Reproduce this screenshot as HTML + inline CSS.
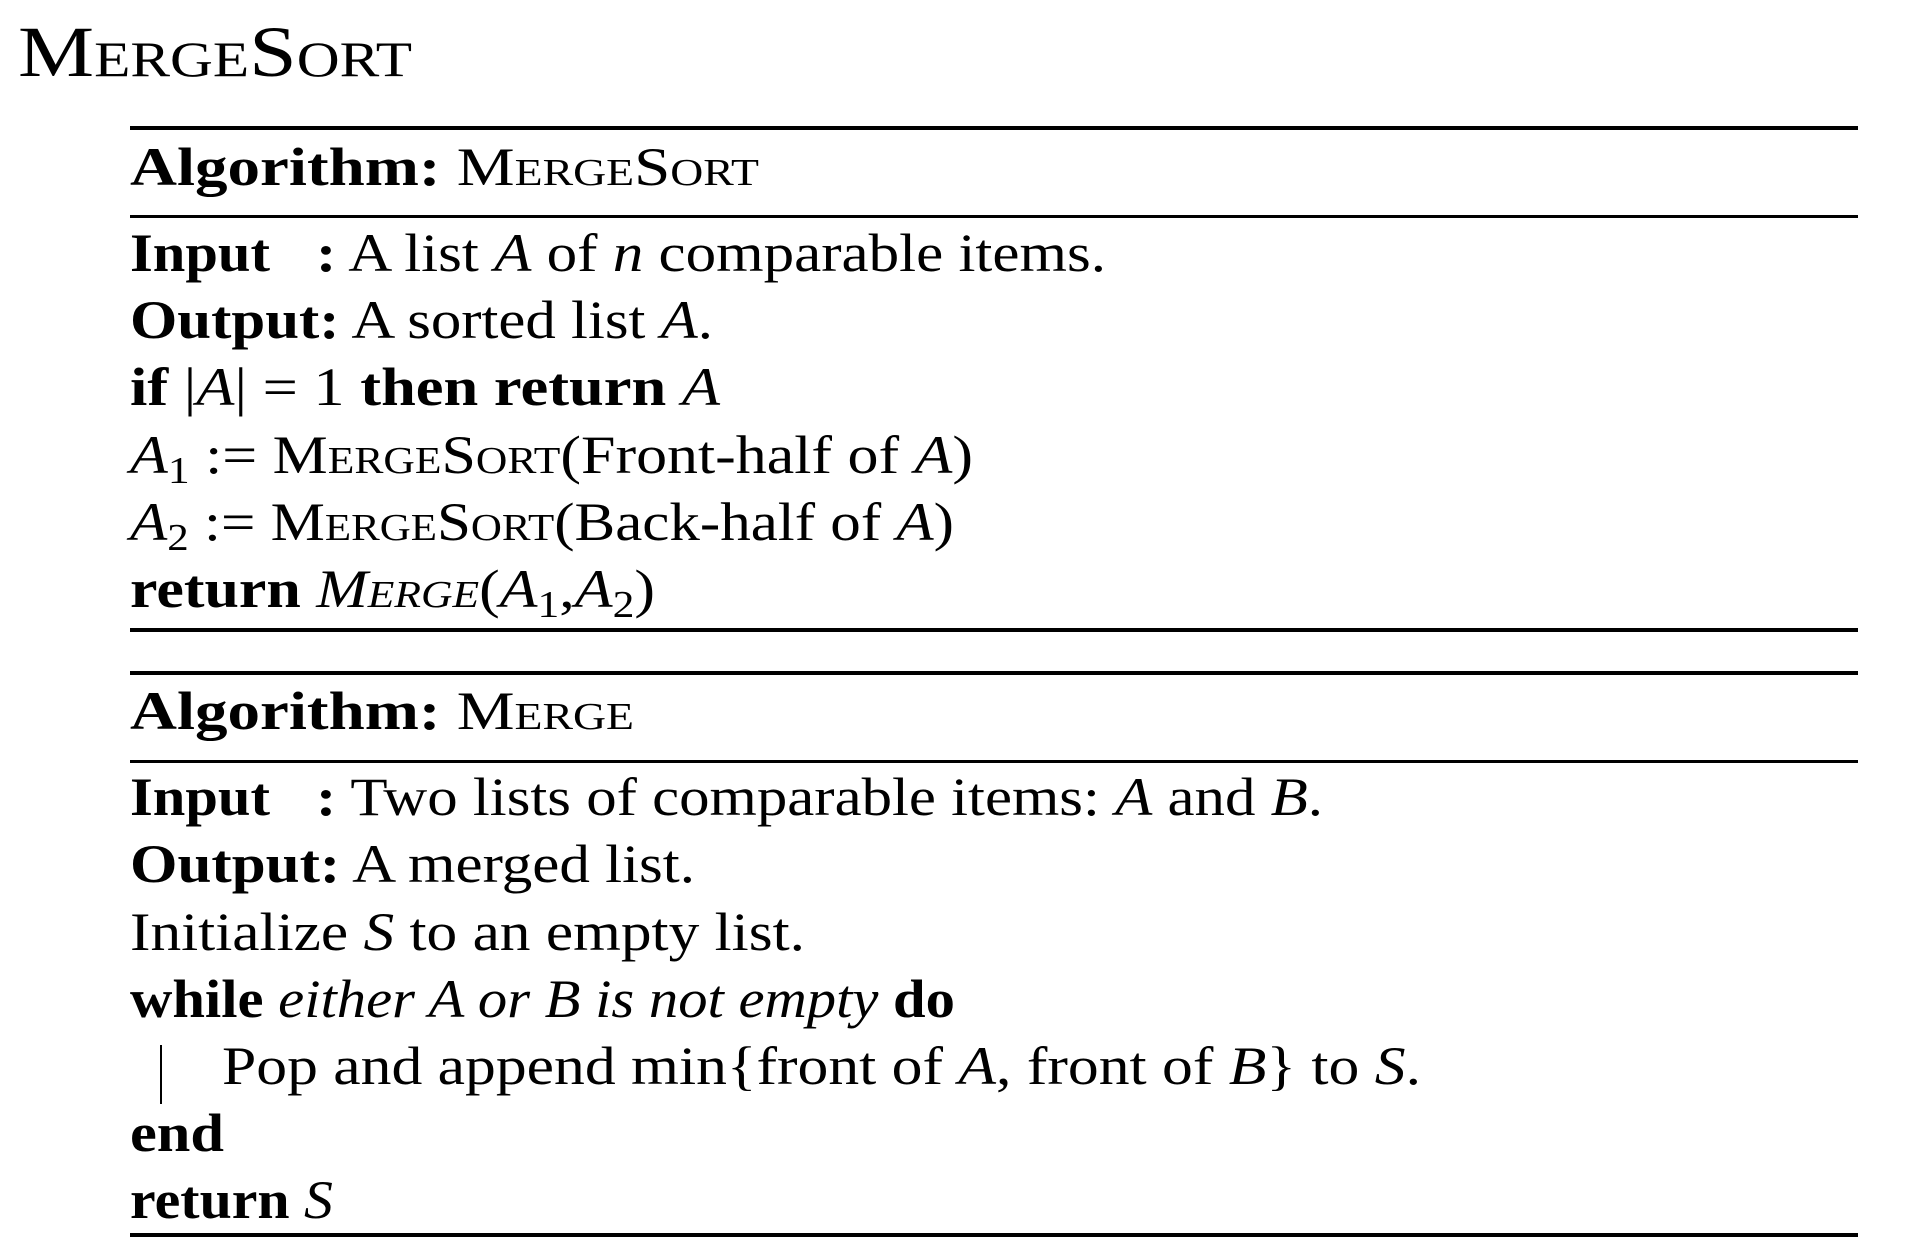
<!DOCTYPE html>
<html><head><meta charset="utf-8"><style>
html,body{margin:0;padding:0;background:#fff;}
svg{display:block;}
text{font-family:"Liberation Serif",serif;font-size:54px;fill:#000;}
.b{font-weight:bold;}
.i{font-style:italic;}
.sc{font-variant:small-caps;}
</style></head><body>
<svg width="1908" height="1256" viewBox="0 0 1908 1256" xmlns="http://www.w3.org/2000/svg">
<text x="18" y="76" style="font-size:72px" class="sc" textLength="394" lengthAdjust="spacingAndGlyphs">MergeSort</text>

<rect x="130" y="126" width="1728" height="4"/>
<rect x="130" y="215" width="1728" height="3"/>
<rect x="130" y="628" width="1728" height="4"/>
<rect x="130" y="671" width="1728" height="4"/>
<rect x="130" y="760" width="1728" height="3"/>
<rect x="130" y="1233" width="1728" height="4"/>

<text x="130" y="185" textLength="629" lengthAdjust="spacingAndGlyphs"><tspan class="b">Algorithm:</tspan> <tspan class="sc">MergeSort</tspan></text>
<text x="130" y="271" textLength="140" lengthAdjust="spacingAndGlyphs" class="b">Input</text>
<text x="316" y="271" textLength="790" lengthAdjust="spacingAndGlyphs"><tspan class="b">:</tspan> A list <tspan class="i">A</tspan> of <tspan class="i">n</tspan> comparable items.</text>
<text x="130" y="338" textLength="583" lengthAdjust="spacingAndGlyphs"><tspan class="b">Output:</tspan> A sorted list <tspan class="i">A</tspan>.</text>
<text x="130" y="405" textLength="590" lengthAdjust="spacingAndGlyphs"><tspan class="b">if</tspan> |<tspan class="i">A</tspan>| = 1 <tspan class="b">then return</tspan> <tspan class="i">A</tspan></text>
<text x="130" y="473" textLength="843" lengthAdjust="spacingAndGlyphs"><tspan class="i">A</tspan><tspan dy="10" style="font-size:38px">1</tspan><tspan dy="-10"> := </tspan><tspan class="sc">MergeSort</tspan>(Front-half of <tspan class="i">A</tspan>)</text>
<text x="130" y="540" textLength="824" lengthAdjust="spacingAndGlyphs"><tspan class="i">A</tspan><tspan dy="10" style="font-size:38px">2</tspan><tspan dy="-10"> := </tspan><tspan class="sc">MergeSort</tspan>(Back-half of <tspan class="i">A</tspan>)</text>
<text x="130" y="607" textLength="525" lengthAdjust="spacingAndGlyphs"><tspan class="b">return</tspan> <tspan class="i sc">Merge</tspan>(<tspan class="i">A</tspan><tspan dy="10" style="font-size:38px">1</tspan><tspan dy="-10">,</tspan><tspan class="i">A</tspan><tspan dy="10" style="font-size:38px">2</tspan><tspan dy="-10">)</tspan></text>

<text x="130" y="729" textLength="504" lengthAdjust="spacingAndGlyphs"><tspan class="b">Algorithm:</tspan> <tspan class="sc">Merge</tspan></text>
<text x="130" y="815" textLength="140" lengthAdjust="spacingAndGlyphs" class="b">Input</text>
<text x="316" y="815" textLength="1007" lengthAdjust="spacingAndGlyphs"><tspan class="b">:</tspan> Two lists of comparable items: <tspan class="i">A</tspan> and <tspan class="i">B</tspan>.</text>
<text x="130" y="882" textLength="565" lengthAdjust="spacingAndGlyphs"><tspan class="b">Output:</tspan> A merged list.</text>
<text x="130" y="950" textLength="675" lengthAdjust="spacingAndGlyphs">Initialize <tspan class="i">S</tspan> to an empty list.</text>
<text x="130" y="1017" textLength="825" lengthAdjust="spacingAndGlyphs"><tspan class="b">while</tspan> <tspan class="i">either A or B is not empty</tspan> <tspan class="b">do</tspan></text>
<rect x="160" y="1045" width="2" height="59"/>
<text x="222" y="1084" textLength="1199" lengthAdjust="spacingAndGlyphs">Pop and append min{front of <tspan class="i">A</tspan>, front of <tspan class="i">B</tspan>} to <tspan class="i">S</tspan>.</text>
<text x="130" y="1151" textLength="94" lengthAdjust="spacingAndGlyphs" class="b">end</text>
<text x="130" y="1218" textLength="203" lengthAdjust="spacingAndGlyphs"><tspan class="b">return</tspan> <tspan class="i">S</tspan></text>
</svg>
</body></html>
